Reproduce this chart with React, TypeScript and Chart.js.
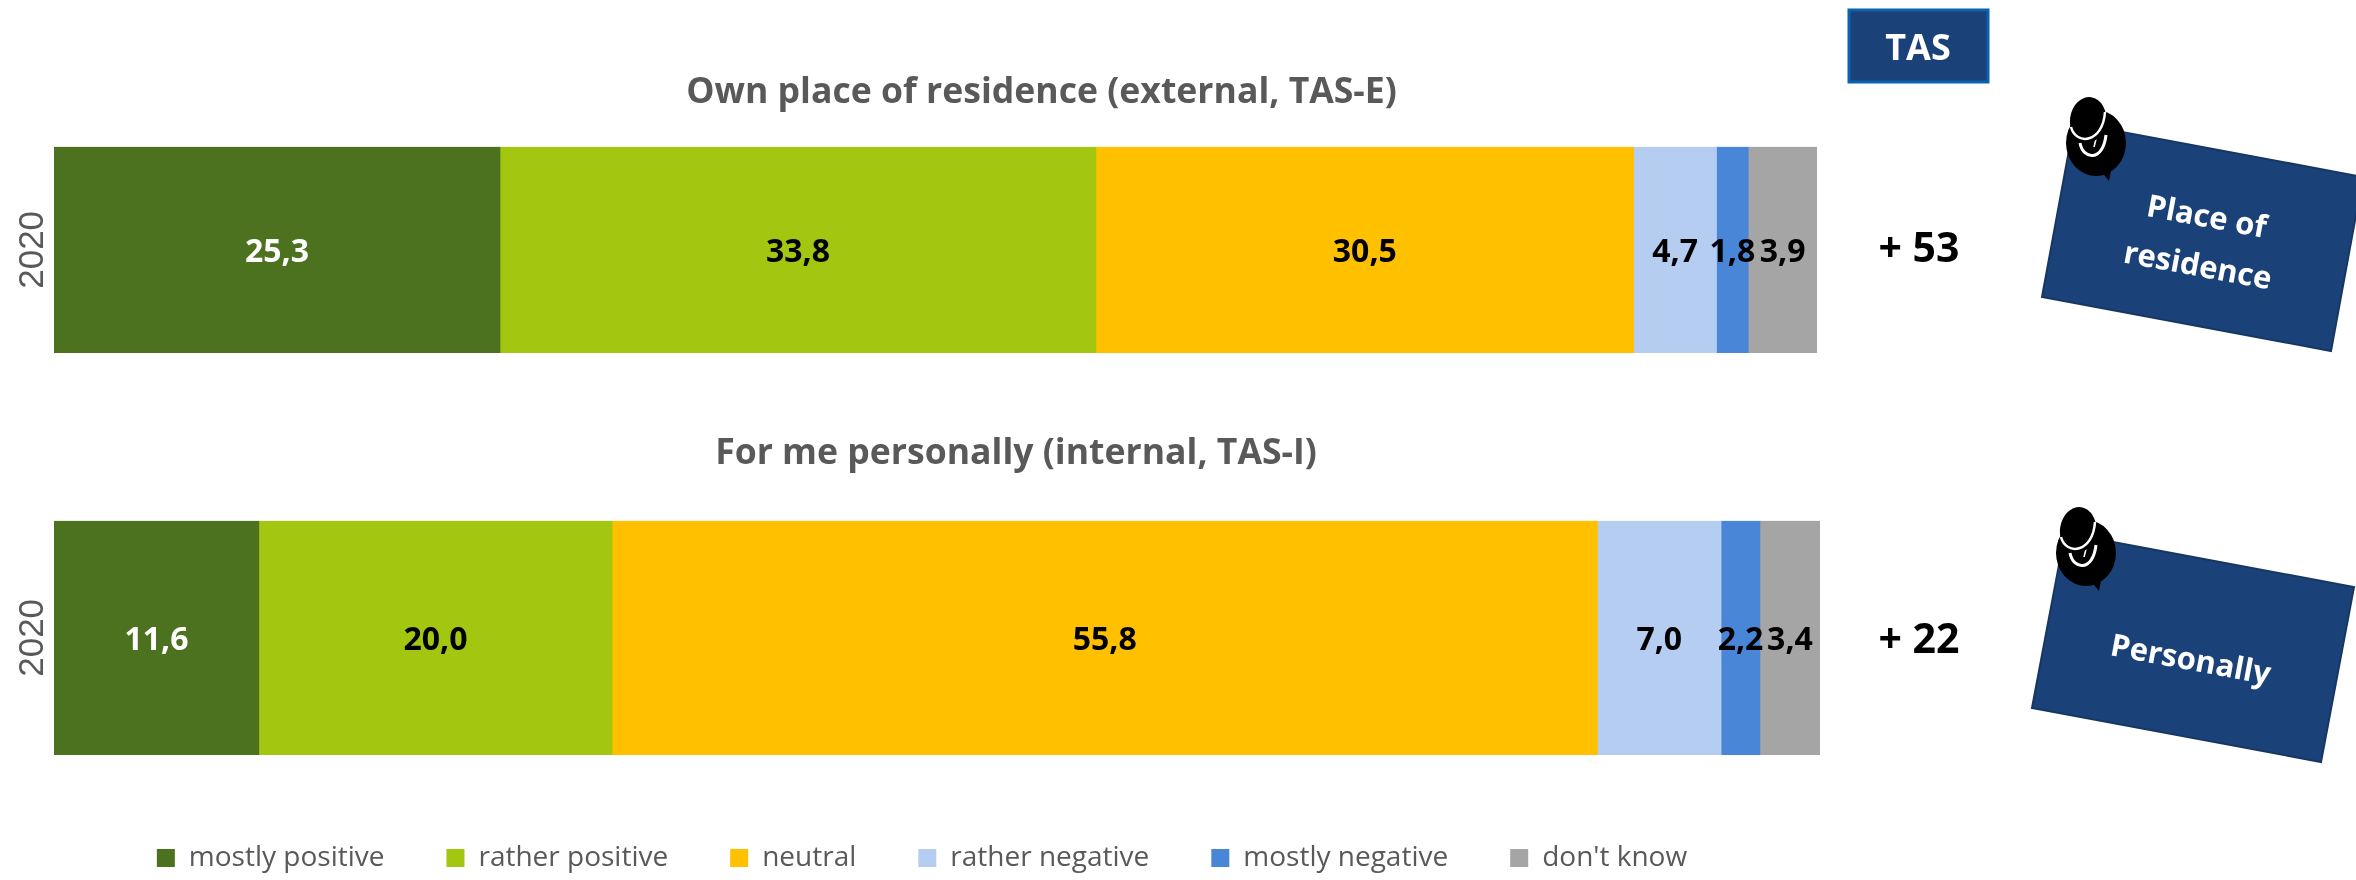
import React, { useEffect, useRef } from "react";
import { Chart, registerables } from "chart.js";

Chart.register(...registerables);

const SERIES_NAMES = ["mostly positive", "rather positive", "neutral", "rather negative", "mostly negative", "don't know"];
const SERIES_COLORS = ["#4C7220", "#A3C711", "#FFC000", "#B4CDF0", "#4A86D8", "#A5A5A5"];
const LABEL_COLORS = ["#FFFFFF", "#000000", "#000000", "#000000", "#000000", "#000000"];
const YEAR_LABELS = ["2020"];
const RESIDENCE_VALUES = [25.3, 33.8, 30.5, 4.7, 1.8, 3.9];
const PERSONAL_VALUES = [11.6, 20.0, 55.8, 7.0, 2.2, 3.4];
const RESIDENCE_TITLE = "Own place of residence (external, TAS-E)";
const PERSONAL_TITLE = "For me personally (internal, TAS-I)";

const SANS = "'Open Sans', sans-serif";
const GREY = "#595959";
const NAVY = "#1B4278";

const valueLabels = {
  id: "valueLabels",
  afterDatasetsDraw(chart: any) {
    const { ctx } = chart;
    ctx.save();
    ctx.font = `bold 32px ${SANS}`;
    ctx.textAlign = "center";
    ctx.textBaseline = "middle";
    chart.data.datasets.forEach((ds: any, i: number) => {
      const el = chart.getDatasetMeta(i).data[0];
      const c = el.getCenterPoint();
      ctx.fillStyle = LABEL_COLORS[i];
      ctx.fillText(Number(ds.data[0]).toFixed(1).replace(".", ","), c.x, c.y + 3);
    });
    ctx.restore();
  },
};

const blockShift = {
  id: "blockShift",
  afterLayout(chart: any, _args: any, opts: any) {
    const t = chart.titleBlock;
    if (t) {
      t.left += opts.title;
      t.right += opts.title;
    }
    const l = chart.legend;
    if (l && l.options.display) {
      l.left += opts.legend;
      l.right += opts.legend;
    }
  },
};

function makeConfig(values: number[], title: string, o: any) {
  return {
    type: "bar",
    data: {
      labels: YEAR_LABELS,
      datasets: values.map((v, i) => ({
        label: SERIES_NAMES[i],
        data: [v],
        backgroundColor: SERIES_COLORS[i],
        borderWidth: 0,
        barPercentage: 1,
        categoryPercentage: 1,
      })),
    },
    options: {
      indexAxis: "y",
      responsive: false,
      animation: false,
      layout: { padding: { left: 0, right: 0, top: 0, bottom: o.bottom } },
      scales: {
        x: {
          stacked: true,
          min: 0,
          max: 100,
          display: o.legend,
          grid: { display: false },
          border: { display: false },
          ticks: { display: false },
          afterFit: (s: any) => {
            s.height = o.axisGap;
          },
        },
        y: {
          stacked: true,
          grid: { display: false },
          border: { display: false },
          ticks: {
            color: GREY,
            font: { family: "'Liberation Sans', Arial, sans-serif", size: 35 },
            minRotation: 90,
            maxRotation: 90,
            crossAlign: "center",
            padding: -26,
          },
          afterFit: (s: any) => {
            s.width = 54;
          },
        },
      },
      plugins: {
        tooltip: { enabled: false },
        title: {
          display: true,
          text: title,
          color: GREY,
          font: { family: SANS, size: 35.6, weight: "bold", lineHeight: 1.2 },
          padding: { top: o.titleTop, bottom: o.titleBottom },
        },
        legend: {
          display: o.legend,
          position: "bottom",
          labels: {
            color: GREY,
            font: { family: SANS, size: 28 },
            boxWidth: 18,
            boxHeight: 18,
            padding: 62,
          },
        },
        blockShift: { title: o.titleShift, legend: o.legendShift },
      },
    },
    plugins: [valueLabels, blockShift],
  };
}

function Pin({ dx, dy }: { dx: number; dy: number }) {
  return (
    <g transform={`translate(${dx} ${dy})`}>
      <ellipse cx={2096} cy={143} rx={30} ry={33} fill="#000" />
      <path d="M2100 170 L2109 181 L2112 165 Z" fill="#000" />
      <path d="M2080 143 C2083 160 2103 162 2106 135" fill="none" stroke="#fff" strokeWidth={3} />
      <path d="M2096 139 L2094 147" fill="none" stroke="#fff" strokeWidth={1.5} />
      <ellipse cx={2088} cy={120} rx={18} ry={23} transform="rotate(8 2088 120)" fill="#000" />
      <path d="M2071 127 C2076 146 2103 143 2105 112" fill="none" stroke="#fff" strokeWidth={2.5} />
    </g>
  );
}

export default function App() {
  const topRef = useRef<HTMLCanvasElement>(null);
  const bottomRef = useRef<HTMLCanvasElement>(null);

  useEffect(() => {
    document.body.style.margin = "0";
    const a = new Chart(
      topRef.current as any,
      makeConfig(RESIDENCE_VALUES, RESIDENCE_TITLE, {
        bottom: 47,
        titleTop: 71,
        titleBottom: 33,
        legend: false,
        axisGap: 0,
        titleShift: 133,
        legendShift: 0,
      }) as any
    );
    const b = new Chart(
      bottomRef.current as any,
      makeConfig(PERSONAL_VALUES, PERSONAL_TITLE, {
        bottom: 0,
        titleTop: 32,
        titleBottom: 46,
        legend: true,
        axisGap: 27,
        titleShift: 106,
        legendShift: 12,
      }) as any
    );
    return () => {
      a.destroy();
      b.destroy();
    };
  }, []);

  const noteText = { fill: "#fff", fontFamily: SANS, fontWeight: 700, fontSize: 31, textAnchor: "middle", dominantBaseline: "central" } as any;
  const scoreText = { fill: "#000", fontFamily: SANS, fontWeight: 700, fontSize: 41, textAnchor: "middle", dominantBaseline: "central" } as any;

  return (
    <div style={{ position: "relative", width: 2356, height: 880, overflow: "hidden", background: "#fff" }}>
      <canvas ref={topRef} width={1817} height={400} style={{ position: "absolute", left: 0, top: 0 }} />
      <canvas ref={bottomRef} width={1820} height={482} style={{ position: "absolute", left: 0, top: 400 }} />
      <svg width={2356} height={880} style={{ position: "absolute", left: 0, top: 0 }}>
        <rect x={1849} y={10} width={139} height={72} fill={NAVY} stroke="#0B63B0" strokeWidth={3} />
        <text x={1918} y={46} {...scoreText} fill="#fff" fontSize={36}>TAS</text>
        <text x={1919} y={246} {...scoreText}>+ 53</text>
        <text x={1919} y={637} {...scoreText}>+ 22</text>

        <polygon points="2074,123 2363,177 2331,351 2042,297" fill={NAVY} stroke="#163763" strokeWidth={2} />
        <text x={2207} y={215} transform="rotate(10.5 2207 215)" {...noteText}>Place of</text>
        <text x={2198} y={264} transform="rotate(10.5 2198 264)" {...noteText}>residence</text>
        <Pin dx={0} dy={0} />

        <polygon points="2065,533 2354,587 2321,762 2032,708" fill={NAVY} stroke="#163763" strokeWidth={2} />
        <text x={2191} y={658} transform="rotate(10.5 2191 658)" {...noteText}>Personally</text>
        <Pin dx={-10} dy={410} />
      </svg>
    </div>
  );
}
